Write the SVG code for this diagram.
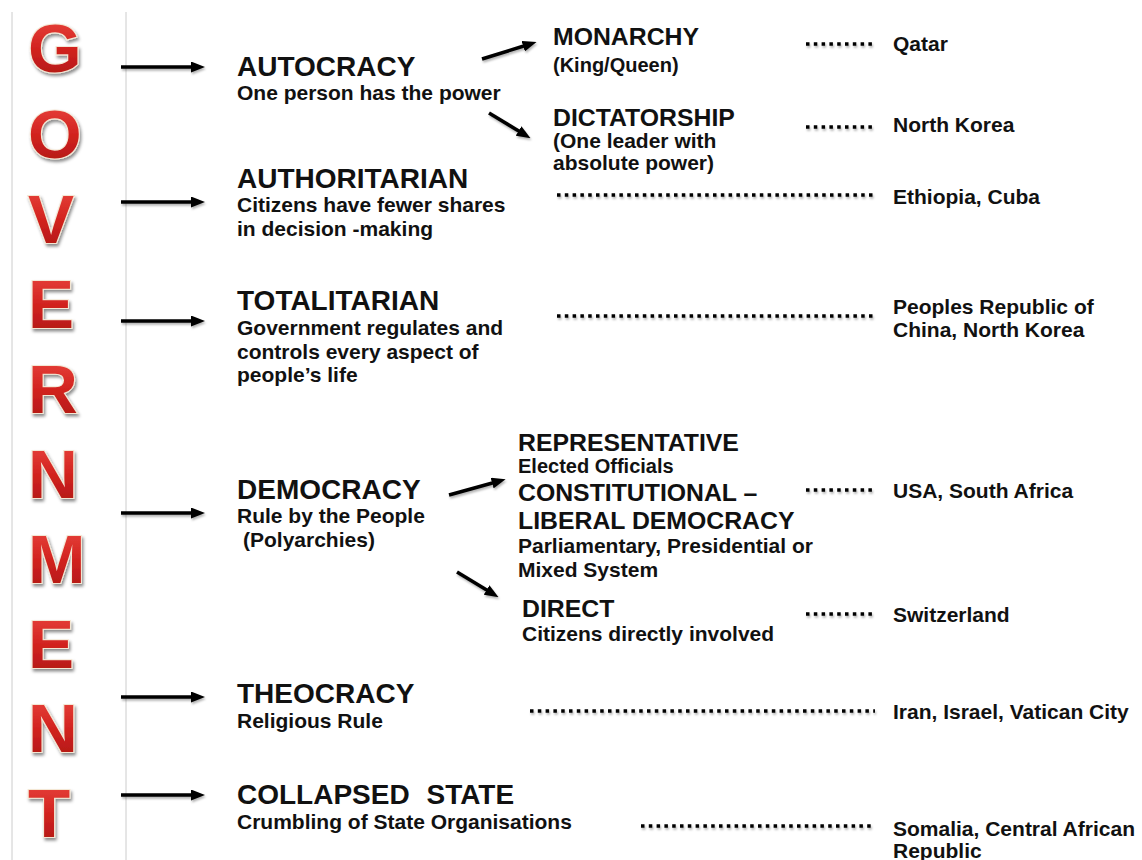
<svg xmlns="http://www.w3.org/2000/svg" width="1142" height="860" viewBox="0 0 1142 860">
  <defs>
    <style>
      .letter { font-family: "Liberation Sans", Arial, sans-serif; font-weight: bold; font-size: 69px; fill: url(#redGrad); stroke: #f4e7d4; stroke-width: 2.2; paint-order: stroke; filter: url(#letterShadow); }
      .head { font-family: "Liberation Sans", Arial, sans-serif; font-weight: bold; font-size: 28px; fill: #111; }
      .sub { font-family: "Liberation Sans", Arial, sans-serif; font-weight: bold; font-size: 24.8px; fill: #111; }
      .desc { font-family: "Liberation Sans", Arial, sans-serif; font-weight: bold; font-size: 21px; fill: #111; }
      .arrow { stroke: #000; stroke-width: 3.5; fill: none; marker-end: url(#head); filter: url(#softShadow); }
      .dots { stroke: #000; stroke-width: 3.5; stroke-dasharray: 3.5 4.3; fill: none; filter: url(#softShadow); }
      .panel { stroke: #cccccc; stroke-width: 1; }
    </style>
    <linearGradient id="redGrad" x1="0" y1="0" x2="0" y2="1">
      <stop offset="0" stop-color="#ec4a42"/>
      <stop offset="0.5" stop-color="#d2231f"/>
      <stop offset="1" stop-color="#a81414"/>
    </linearGradient>
    <filter id="letterShadow" x="-20%" y="-20%" width="140%" height="150%">
      <feDropShadow dx="1.5" dy="2.5" stdDeviation="1.6" flood-color="#000" flood-opacity="0.45"/>
    </filter>
    <!-- user-space region so zero-height lines still get a shadow -->
    <filter id="softShadow" filterUnits="userSpaceOnUse" x="0" y="0" width="1142" height="860">
      <feDropShadow dx="1" dy="2" stdDeviation="1.2" flood-color="#000" flood-opacity="0.3"/>
    </filter>
    <marker id="head" markerUnits="userSpaceOnUse" viewBox="0 0 14 11" markerWidth="14" markerHeight="11" refX="4" refY="5.5" orient="auto">
      <path d="M0,0 L14,5.5 L0,11 z" fill="#000"/>
    </marker>
  </defs>

  <rect width="1142" height="860" fill="#fff"/>

  <!-- vertical title panel -->
  <g id="title-panel">
    <line class="panel" x1="12" y1="12" x2="12" y2="860"/>
    <line class="panel" x1="126" y1="12" x2="126" y2="860"/>
    <text class="letter" x="28" y="72">G</text>
    <text class="letter" x="28" y="158">O</text>
    <text class="letter" x="28" y="243">V</text>
    <text class="letter" x="28" y="328">E</text>
    <text class="letter" x="28" y="413">R</text>
    <text class="letter" x="28" y="498">N</text>
    <text class="letter" x="28" y="583">M</text>
    <text class="letter" x="28" y="668">E</text>
    <text class="letter" x="28" y="752">N</text>
    <text class="letter" x="28" y="837">T</text>
  </g>

  <!-- connectors -->
  <g id="connectors">
    <line class="arrow" x1="121" y1="67" x2="195" y2="67"/>
    <line class="arrow" x1="121" y1="202" x2="195" y2="202"/>
    <line class="arrow" x1="121" y1="321" x2="195" y2="321"/>
    <line class="arrow" x1="121" y1="513" x2="195" y2="513"/>
    <line class="arrow" x1="121" y1="697" x2="195" y2="697"/>
    <line class="arrow" x1="121" y1="795" x2="195" y2="795"/>
    <line class="arrow" x1="482" y1="59" x2="527" y2="45"/>
    <line class="arrow" x1="489" y1="113" x2="522" y2="133"/>
    <line class="arrow" x1="449" y1="495" x2="496" y2="482"/>
    <line class="arrow" x1="457" y1="572" x2="490" y2="592"/>

    <line class="dots" x1="806" y1="44" x2="875" y2="44"/>
    <line class="dots" x1="806" y1="127" x2="875" y2="127"/>
    <line class="dots" x1="557" y1="195" x2="875" y2="195"/>
    <line class="dots" x1="557" y1="316" x2="875" y2="316"/>
    <line class="dots" x1="806" y1="490" x2="875" y2="490"/>
    <line class="dots" x1="806" y1="614" x2="875" y2="614"/>
    <line class="dots" x1="530" y1="711" x2="875" y2="711"/>
    <line class="dots" x1="641" y1="826" x2="875" y2="826"/>
  </g>

  <!-- government types -->
  <g id="autocracy">
    <text class="head" x="237" y="76">AUTOCRACY</text>
    <text class="desc" x="237" y="100">One person has the power</text>
  </g>
  <g id="monarchy">
    <text class="sub" x="553" y="45">MONARCHY</text>
    <text class="desc" x="553" y="72" style="font-size:20px">(King/Queen)</text>
  </g>
  <g id="dictatorship">
    <text class="sub" x="553" y="126">DICTATORSHIP</text>
    <text class="desc" x="553" y="148">(One leader with</text>
    <text class="desc" x="553" y="170">absolute power)</text>
  </g>
  <g id="authoritarian">
    <text class="head" x="237" y="188">AUTHORITARIAN</text>
    <text class="desc" x="237" y="212">Citizens have fewer shares</text>
    <text class="desc" x="237" y="236">in decision -making</text>
  </g>
  <g id="totalitarian">
    <text class="head" x="237" y="310">TOTALITARIAN</text>
    <text class="desc" x="237" y="335">Government regulates and</text>
    <text class="desc" x="237" y="359">controls every aspect of</text>
    <text class="desc" x="237" y="382">people’s life</text>
  </g>
  <g id="democracy">
    <text class="head" x="237" y="499">DEMOCRACY</text>
    <text class="desc" x="237" y="523">Rule by the People</text>
    <text class="desc" x="243" y="547">(Polyarchies)</text>
  </g>
  <g id="representative">
    <text class="sub" x="518" y="451">REPRESENTATIVE</text>
    <text class="desc" x="518" y="473" style="font-size:20px">Elected Officials</text>
    <text class="sub" x="518" y="501">CONSTITUTIONAL –</text>
    <text class="sub" x="518" y="529">LIBERAL DEMOCRACY</text>
    <text class="desc" x="518" y="553">Parliamentary, Presidential or</text>
    <text class="desc" x="518" y="577">Mixed System</text>
  </g>
  <g id="direct">
    <text class="sub" x="522" y="617">DIRECT</text>
    <text class="desc" x="522" y="641">Citizens directly involved</text>
  </g>
  <g id="theocracy">
    <text class="head" x="237" y="703">THEOCRACY</text>
    <text class="desc" x="237" y="728">Religious Rule</text>
  </g>
  <g id="collapsed-state">
    <text class="head" x="237" y="804" word-spacing="9">COLLAPSED STATE</text>
    <text class="desc" x="237" y="829">Crumbling of State Organisations</text>
  </g>

  <!-- example countries -->
  <g id="examples">
    <text class="desc" x="893" y="51">Qatar</text>
    <text class="desc" x="893" y="132">North Korea</text>
    <text class="desc" x="893" y="204">Ethiopia, Cuba</text>
    <text class="desc" x="893" y="314">Peoples Republic of</text>
    <text class="desc" x="893" y="337">China, North Korea</text>
    <text class="desc" x="893" y="498">USA, South Africa</text>
    <text class="desc" x="893" y="622">Switzerland</text>
    <text class="desc" x="893" y="719">Iran, Israel, Vatican City</text>
    <text class="desc" x="893" y="836">Somalia, Central African</text>
    <text class="desc" x="893" y="858">Republic</text>
  </g>
</svg>
